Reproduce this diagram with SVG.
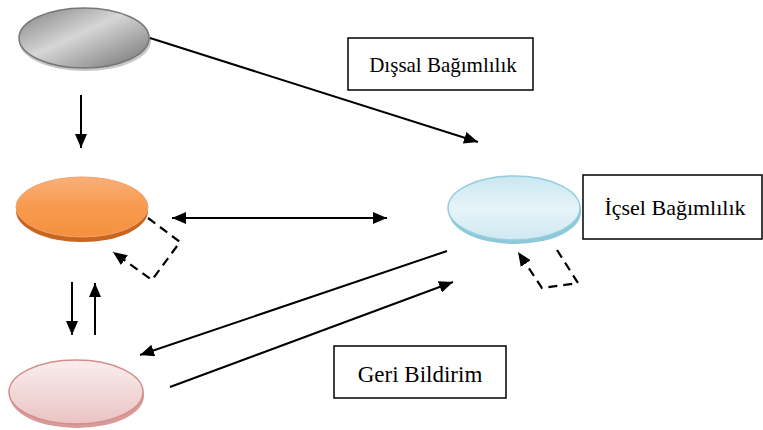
<svg xmlns="http://www.w3.org/2000/svg" width="763" height="430" viewBox="0 0 763 430">
<style>
.ln{stroke:#000;stroke-width:2;fill:none}
.dash{stroke:#000;stroke-width:2.2;fill:none;stroke-dasharray:9,6}
.box{fill:#fff;stroke:#000;stroke-width:1.5}
.lbl{font-family:"Liberation Serif","Times New Roman",serif;fill:#000}
</style>
<defs>
<marker id="ah" viewBox="0 0 14 12" refX="14" refY="6" markerWidth="14" markerHeight="12" markerUnits="userSpaceOnUse" orient="auto-start-reverse">
<path d="M0,0 L14,6 L0,12 Z" fill="#000"/>
</marker>
<linearGradient id="gGray" x1="0" y1="0" x2="1" y2="1">
<stop offset="0" stop-color="#808080"/>
<stop offset="0.45" stop-color="#d6d6d6"/>
<stop offset="1" stop-color="#707070"/>
</linearGradient>
<linearGradient id="gOrange" x1="0" y1="0" x2="0" y2="1">
<stop offset="0" stop-color="#f9b079"/>
<stop offset="0.5" stop-color="#f79a4e"/>
<stop offset="1" stop-color="#f59140"/>
</linearGradient>
<linearGradient id="gBlue" x1="0" y1="0" x2="0" y2="1">
<stop offset="0" stop-color="#c9e7f0"/>
<stop offset="0.5" stop-color="#e6f4f8"/>
<stop offset="1" stop-color="#cfe9f1"/>
</linearGradient>
<linearGradient id="gPink" x1="0" y1="0" x2="0" y2="1">
<stop offset="0" stop-color="#fbeeee"/>
<stop offset="1" stop-color="#eac3c3"/>
</linearGradient>
</defs>

<g id="node-gray">
<ellipse cx="85" cy="41" rx="66" ry="30" fill="#c8c8c8"/>
<ellipse cx="84" cy="38" rx="65" ry="30" fill="url(#gGray)" stroke="#777" stroke-width="1.5"/>
</g>
<g id="node-orange">
<ellipse cx="82" cy="211" rx="66" ry="31" fill="#c8651f"/>
<ellipse cx="82" cy="207" rx="66" ry="30" fill="url(#gOrange)" stroke="#f3a36a" stroke-width="1"/>
</g>
<g id="node-pink">
<ellipse cx="77" cy="396" rx="67" ry="32" fill="#d99a98"/>
<ellipse cx="76" cy="392" rx="67" ry="32" fill="url(#gPink)" stroke="#d48e8c" stroke-width="1.5"/>
</g>
<g id="node-blue">
<ellipse cx="515" cy="212" rx="66" ry="32" fill="#8fc8d8"/>
<ellipse cx="514" cy="208" rx="66" ry="32" fill="url(#gBlue)" stroke="#93cddd" stroke-width="1.5"/>
</g>

<g id="label-dissal">
<rect class="box" x="348" y="38" width="185" height="52"/>
<text class="lbl" x="443" y="72" font-size="21" text-anchor="middle">Dışsal Bağımlılık</text>
</g>
<g id="label-icsel">
<rect class="box" x="583" y="175" width="179" height="64"/>
<text class="lbl" x="675" y="215" font-size="22" text-anchor="middle">İçsel Bağımlılık</text>
</g>
<g id="label-geri">
<rect class="box" x="334" y="346" width="172" height="52"/>
<text class="lbl" x="420" y="382" font-size="23" text-anchor="middle">Geri Bildirim</text>
</g>

<g id="connectors">
<line class="ln" x1="150" y1="38" x2="478" y2="142" marker-end="url(#ah)"/>
<line class="ln" x1="81" y1="95" x2="81" y2="148" marker-end="url(#ah)"/>
<line class="ln" x1="172" y1="218" x2="387" y2="218" marker-start="url(#ah)" marker-end="url(#ah)"/>
<line class="ln" x1="72" y1="282" x2="72" y2="335" marker-end="url(#ah)"/>
<line class="ln" x1="95" y1="335" x2="95" y2="283" marker-end="url(#ah)"/>
<line class="ln" x1="447" y1="251" x2="140" y2="355" marker-end="url(#ah)"/>
<line class="ln" x1="170" y1="387" x2="453" y2="282" marker-end="url(#ah)"/>
<polyline class="dash" points="148,218 180,242 152,280 113,252" marker-end="url(#ah)"/>
<polyline class="dash" points="557,250 578,283 542,288 518,252" marker-end="url(#ah)"/>
</g>
</svg>
